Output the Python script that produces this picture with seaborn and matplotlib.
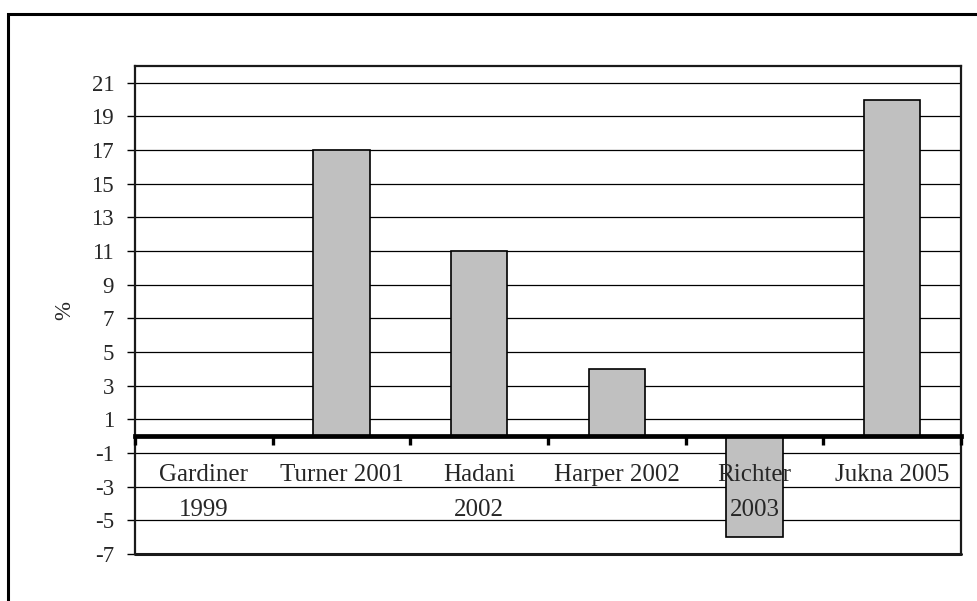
import numpy as np
import matplotlib
matplotlib.use("Agg")
import matplotlib.pyplot as plt
from matplotlib.patches import Rectangle
import seaborn as sns

# Study labels and reported percentage change
studies = ["Gardiner\n1999", "Turner 2001", "Hadani\n2002",
           "Harper 2002", "Richter\n2003", "Jukna 2005"]
values = [0, 17, 11, 4, -6, 20]
y_ticks = list(range(-7, 22, 2))

sns.set_style("white")
plt.rcParams["font.family"] = ["Liberation Serif", "DejaVu Serif"]

fig = plt.figure(figsize=(9.78, 6.01), dpi=100)
ax = fig.add_axes([135 / 978, 1 - 554 / 601, 826 / 978, 488 / 601])

sns.barplot(x=studies, y=values, color="#C0C0C0", saturation=1,
            edgecolor="black", linewidth=1.2, width=0.41, ax=ax)

ax.set_ylim(-7, 22)
ax.set_xlim(-0.5, len(studies) - 0.5)
ax.set_yticks(y_ticks)
ax.set_yticklabels([str(t) for t in y_ticks], fontsize=16.5)
ax.tick_params(axis="y", direction="out", length=6, width=1, pad=9,
               color="black", left=True)

# Horizontal gridlines behind the bars
ax.set_axisbelow(True)
ax.yaxis.grid(True, color="black", linewidth=0.9)
ax.xaxis.grid(False)

# Category axis sits on the zero line: thick line, ticks between groups
n = len(studies)
ax.spines["bottom"].set_position(("data", 0))
ax.spines["bottom"].set_linewidth(3.4)
ax.spines["bottom"].set_color("black")
ax.set_xticks(np.arange(-0.5, n, 1))
ax.set_xticklabels([""] * (n + 1))
ax.set_xticks(np.arange(n), minor=True)
ax.set_xticklabels(studies, minor=True, fontsize=18, linespacing=1.75)
ax.tick_params(axis="x", which="major", direction="out", length=6.5,
               width=2.4, color="black", bottom=True)
ax.tick_params(axis="x", which="minor", length=0, pad=20)
ax.xaxis.set_zorder(3)
ax.set_xlabel("")

# Plot-area frame
for side in ["top", "left", "right"]:
    ax.spines[side].set_visible(True)
    ax.spines[side].set_color("#1a1a1a")
    ax.spines[side].set_linewidth(1.6)
ax.axhline(ax.get_ylim()[0], color="#1a1a1a", linewidth=2.2, clip_on=False)

ax.set_ylabel("%", fontsize=16.5)
ax.yaxis.set_label_coords(-0.072, 0.5)

# Outer chart border
fig.patches.append(Rectangle((8 / 978, -0.2), 1.2, 1.2 - 14 / 601,
                             transform=fig.transFigure, fill=False,
                             edgecolor="black", linewidth=2.2))

fig.savefig("out.png", dpi=100)
